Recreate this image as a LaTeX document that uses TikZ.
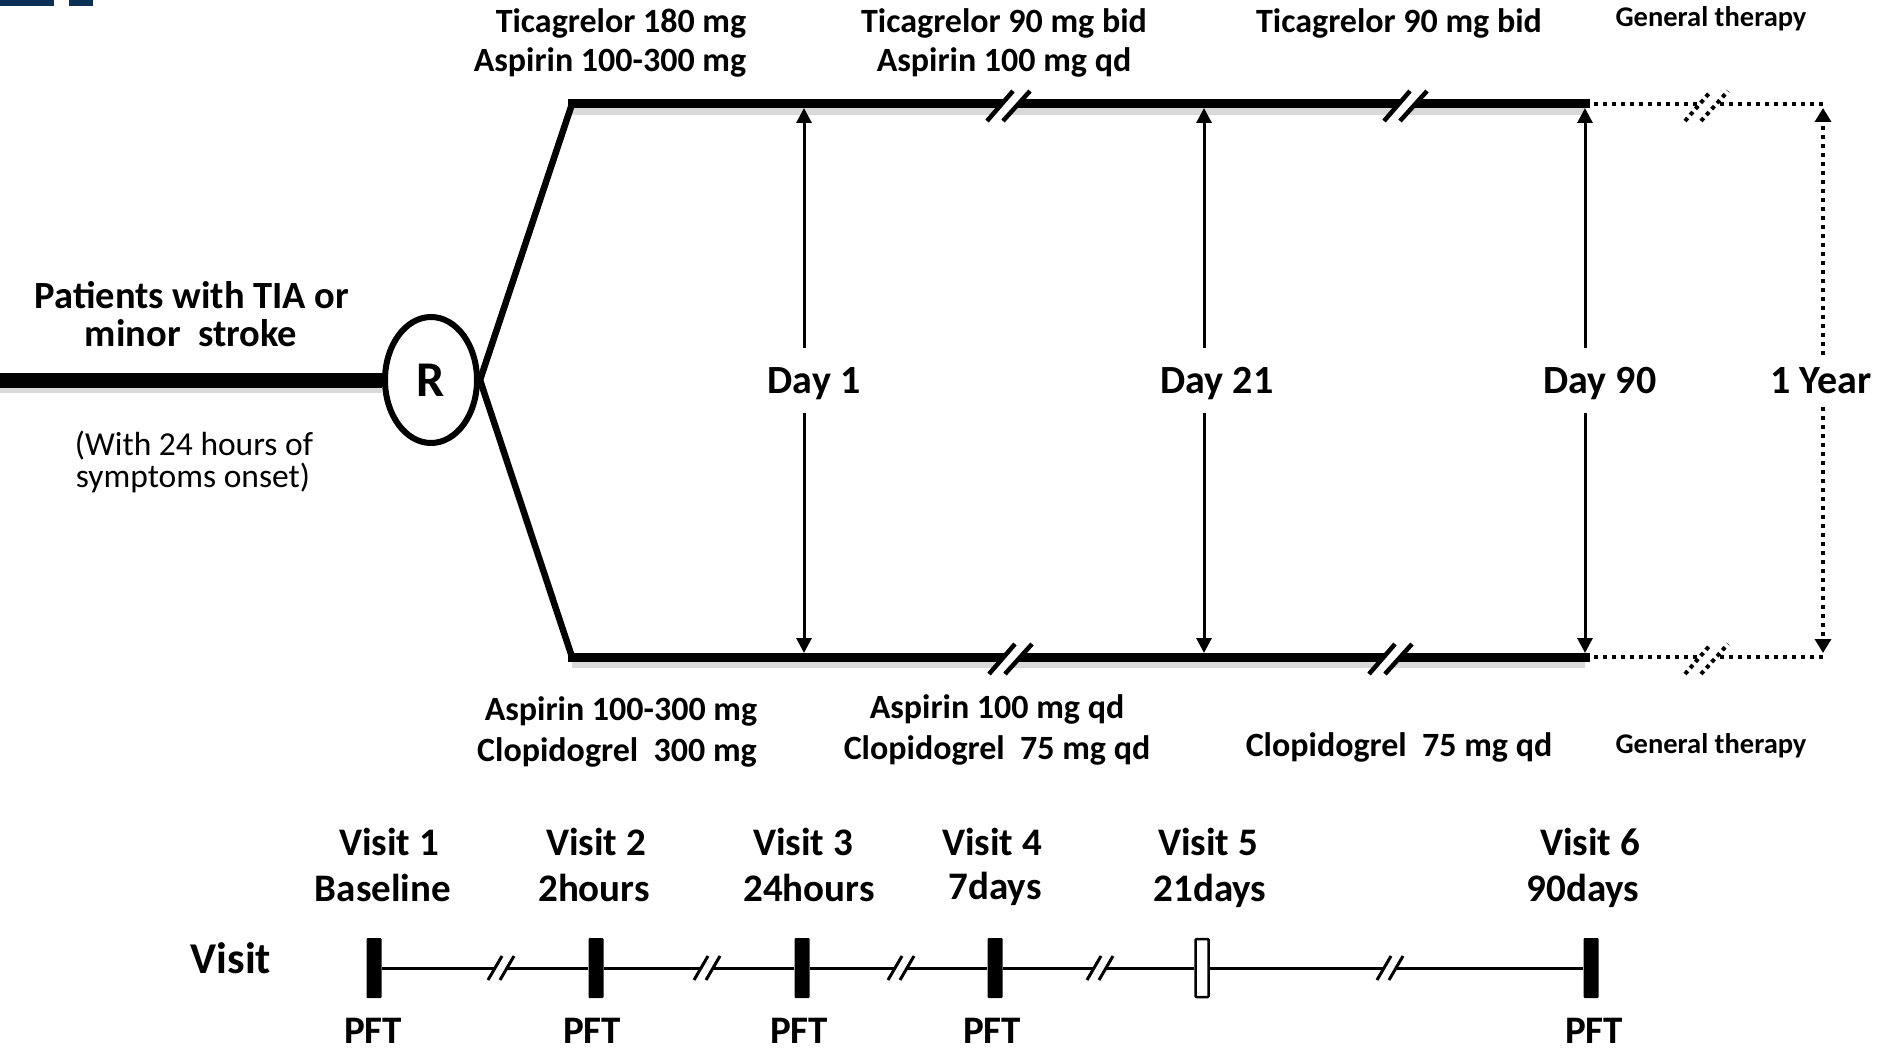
\documentclass[tikz,border=0pt]{standalone}
\usepackage{fontspec}
\setmainfont{Carlito}
\usetikzlibrary{arrows.meta,shapes.geometric,calc}
\definecolor{navy}{HTML}{0A3055}
\begin{document}
\begin{tikzpicture}[x=1pt,y=-1pt,
 lab/.style={font=\fontsize{34}{40}\selectfont\bfseries, inner sep=0pt, anchor=base},
 gen/.style={font=\fontsize{28.5}{34}\selectfont\bfseries, inner sep=0pt, anchor=base},
 big/.style={font=\fontsize{38.5}{44}\selectfont\bfseries, inner sep=0pt, anchor=base},
 note/.style={font=\fontsize{33.5}{38}\selectfont, inner sep=0pt, anchor=base},
 daylab/.style={font=\fontsize{40}{48}\selectfont\bfseries, inner sep=0pt, anchor=base},
 vis/.style={font=\fontsize{39}{46}\selectfont\bfseries, inner sep=0pt, anchor=base},
 arm/.style={line width=9pt, line cap=rect},
 diag/.style={line width=6.5pt},
 shadowline/.style={line width=8pt, black!15},
 dayarrow/.style={line width=3pt, -{Triangle[length=15pt,width=15pt]}},
 dotline/.style={line width=4pt, dash pattern=on 4pt off 5pt},
 vm/.style={rectangle, fill=black, minimum width=15pt, minimum height=60pt, inner sep=0pt, rounded corners=1pt},
 vmopen/.style={rectangle, fill=white, draw=black, line width=2.5pt, minimum width=13pt, minimum height=58pt, inner sep=0pt, rounded corners=1pt},
 brk/.pic={\fill[white] (-21,15) -- (-5,15) -- (22,-15) -- (5,-15) -- cycle;
           \draw[line width=4.5pt] (-21,15) -- (5,-15) (-5,15) -- (22,-15);},
 brkdot/.pic={\fill[white] (-21,15) -- (-5,15) -- (22,-15) -- (5,-15) -- cycle;
           \draw[line width=4pt, dash pattern=on 4pt off 4pt] (-21,15) -- (5,-15) (-5,15) -- (22,-15);},
 vbrk/.pic={\fill[white] (-13,12) -- (-1,12) -- (13,-12) -- (1,-12) -- cycle;
           \draw[line width=3pt] (-13,12) -- (1,-12) (-1,12) -- (13,-12);}
]
\useasboundingbox (0,0) rectangle (1879,1051);
\fill[navy] (0,0) rectangle (54,6);
\fill[navy] (69,0) rectangle (93,6);

% randomisation
\node[ellipse, draw, line width=6pt, minimum width=92pt, minimum height=126pt, inner sep=0pt,
      font=\fontsize{50}{60}\selectfont\bfseries] (R) at (431,380) {R};
\coordinate (L0) at (0,380);
\draw[line width=9pt, black!15] ($(L0)+(0,8)$) -- ($(R.west)+(0,8)$);
\draw[line width=15pt] (L0) -- (R.west);

% arms
\coordinate (ua) at (572,104);
\coordinate (ue) at (1585,104);
\coordinate (la) at (572,657);
\coordinate (le) at (1585,657);
\coordinate (uy) at (1823,104);
\coordinate (ly) at (1823,657);
\draw[shadowline] ($(ua)+(0,7)$) -- ($(ue)+(0,7)$);
\draw[shadowline] ($(la)+(0,7)$) -- ($(le)+(0,7)$);
\draw[diag] (R.east) -- (ua);
\draw[diag] (R.east) -- (la);
\draw[arm] (ua) -- (ue);
\draw[arm] (la) -- (le);
\draw[dotline] (ue) -- (uy);
\draw[dotline] (le) -- (ly);
\pic at (1008,106) {brk};
\pic at (1405,106) {brk};
\pic at (1010,659) {brk};
\pic at (1390,659) {brk};
\pic at (1706,106) {brkdot};
\pic at (1706,659) {brkdot};

% labels of arms
\node[lab] (t1a) at (621,33) {Ticagrelor 180 mg};
\node[lab] (t1b) at (610,72) {Aspirin 100-300 mg};
\node[lab] (t2a) at (1004,33) {Ticagrelor 90 mg bid};
\node[lab] (t2b) at (1004,72) {Aspirin 100 mg qd};
\node[lab] (t3a) at (1399,33) {Ticagrelor 90 mg bid};
\node[gen] (g1) at (1711,27) {General therapy};
\node[lab] (b1a) at (621,720) {Aspirin 100-300 mg};
\node[lab] (b1b) at (617,761) {Clopidogrel\ \ 300 mg};
\node[lab] (b2a) at (997,718) {Aspirin 100 mg qd};
\node[lab] (b2b) at (997,759) {Clopidogrel\ \ 75 mg qd};
\node[lab] (b3) at (1399,756) {Clopidogrel\ \ 75 mg qd};
\node[gen] (g2) at (1711,753) {General therapy};

% patients
\node[big] (p1) at (192,308) {Patients with TIA or};
\node[big] (p2) at (191,346) {minor\ \ stroke};
\node[note] (n1) at (194,455) {(With 24 hours of};
\node[note] (n2) at (193,487) {symptoms onset)};

% days
\node[daylab] (D1) at (814,393) {Day 1};
\node[daylab] (D21) at (1217,393) {Day 21};
\node[daylab] (D90) at (1600,393) {Day 90};
\node[daylab] (Y1) at (1821,393) {1 Year};
\foreach \n/\x in {1/804, 21/1204, 90/1585}{
  \coordinate (gu\n) at (\x,348);
  \coordinate (gd\n) at (\x,413);
  \coordinate (at\n) at (\x,108);
  \coordinate (ab\n) at (\x,653);
  \draw[dayarrow] (gu\n) -- (at\n);
  \draw[dayarrow] (gd\n) -- (ab\n);
}
\coordinate (yu) at (1823,355);
\coordinate (yd) at (1823,407);
\draw[line width=4pt, dash pattern=on 4pt off 5pt, -{Triangle[length=14pt,width=16pt]}] (yu) -- ($(uy)+(0,4)$);
\draw[line width=4pt, dash pattern=on 4pt off 5pt, -{Triangle[length=14pt,width=16pt]}] (yd) -- ($(ly)+(0,-4)$);

% visit timeline
\node[vm] (v1) at (374,968) {};
\node[vm] (v2) at (596,968) {};
\node[vm] (v3) at (802,968) {};
\node[vm] (v4) at (995,968) {};
\node[vmopen] (v5) at (1202,968) {};
\node[vm] (v6) at (1591,968) {};
\draw[line width=3pt] (v1) -- (v2);
\draw[line width=3pt] (v2) -- (v3);
\draw[line width=3pt] (v3) -- (v4);
\draw[line width=3pt] (v4) -- (v5);
\draw[line width=3pt] (v5) -- (v6);
\foreach \x in {501,707,901,1100,1390}{ \pic at (\x,968) {vbrk}; }

\node[font=\fontsize{44}{52}\selectfont\bfseries, inner sep=0pt, anchor=base] (vv) at (231,973) {Visit};
\node[vis] (V1) at (389,855) {Visit 1};
\node[vis] (S1) at (383,901) {Baseline};
\node[vis] (V2) at (596,855) {Visit 2};
\node[vis] (S2) at (594,901) {2hours};
\node[vis] (V3) at (803,855) {Visit 3};
\node[vis] (S3) at (809,901) {24hours};
\node[vis] (V4) at (992,855) {Visit 4};
\node[vis] (S4) at (995,899) {7days};
\node[vis] (V5) at (1208,855) {Visit 5};
\node[vis] (S5) at (1210,901) {21days};
\node[vis] (V6) at (1590,855) {Visit 6};
\node[vis] (S6) at (1583,901) {90days};
\node[vis] (P1) at (373,1043) {PFT};
\node[vis] (P2) at (592,1043) {PFT};
\node[vis] (P3) at (799,1043) {PFT};
\node[vis] (P4) at (992,1043) {PFT};
\node[vis] (P6) at (1594,1043) {PFT};
\end{tikzpicture}
\end{document}
